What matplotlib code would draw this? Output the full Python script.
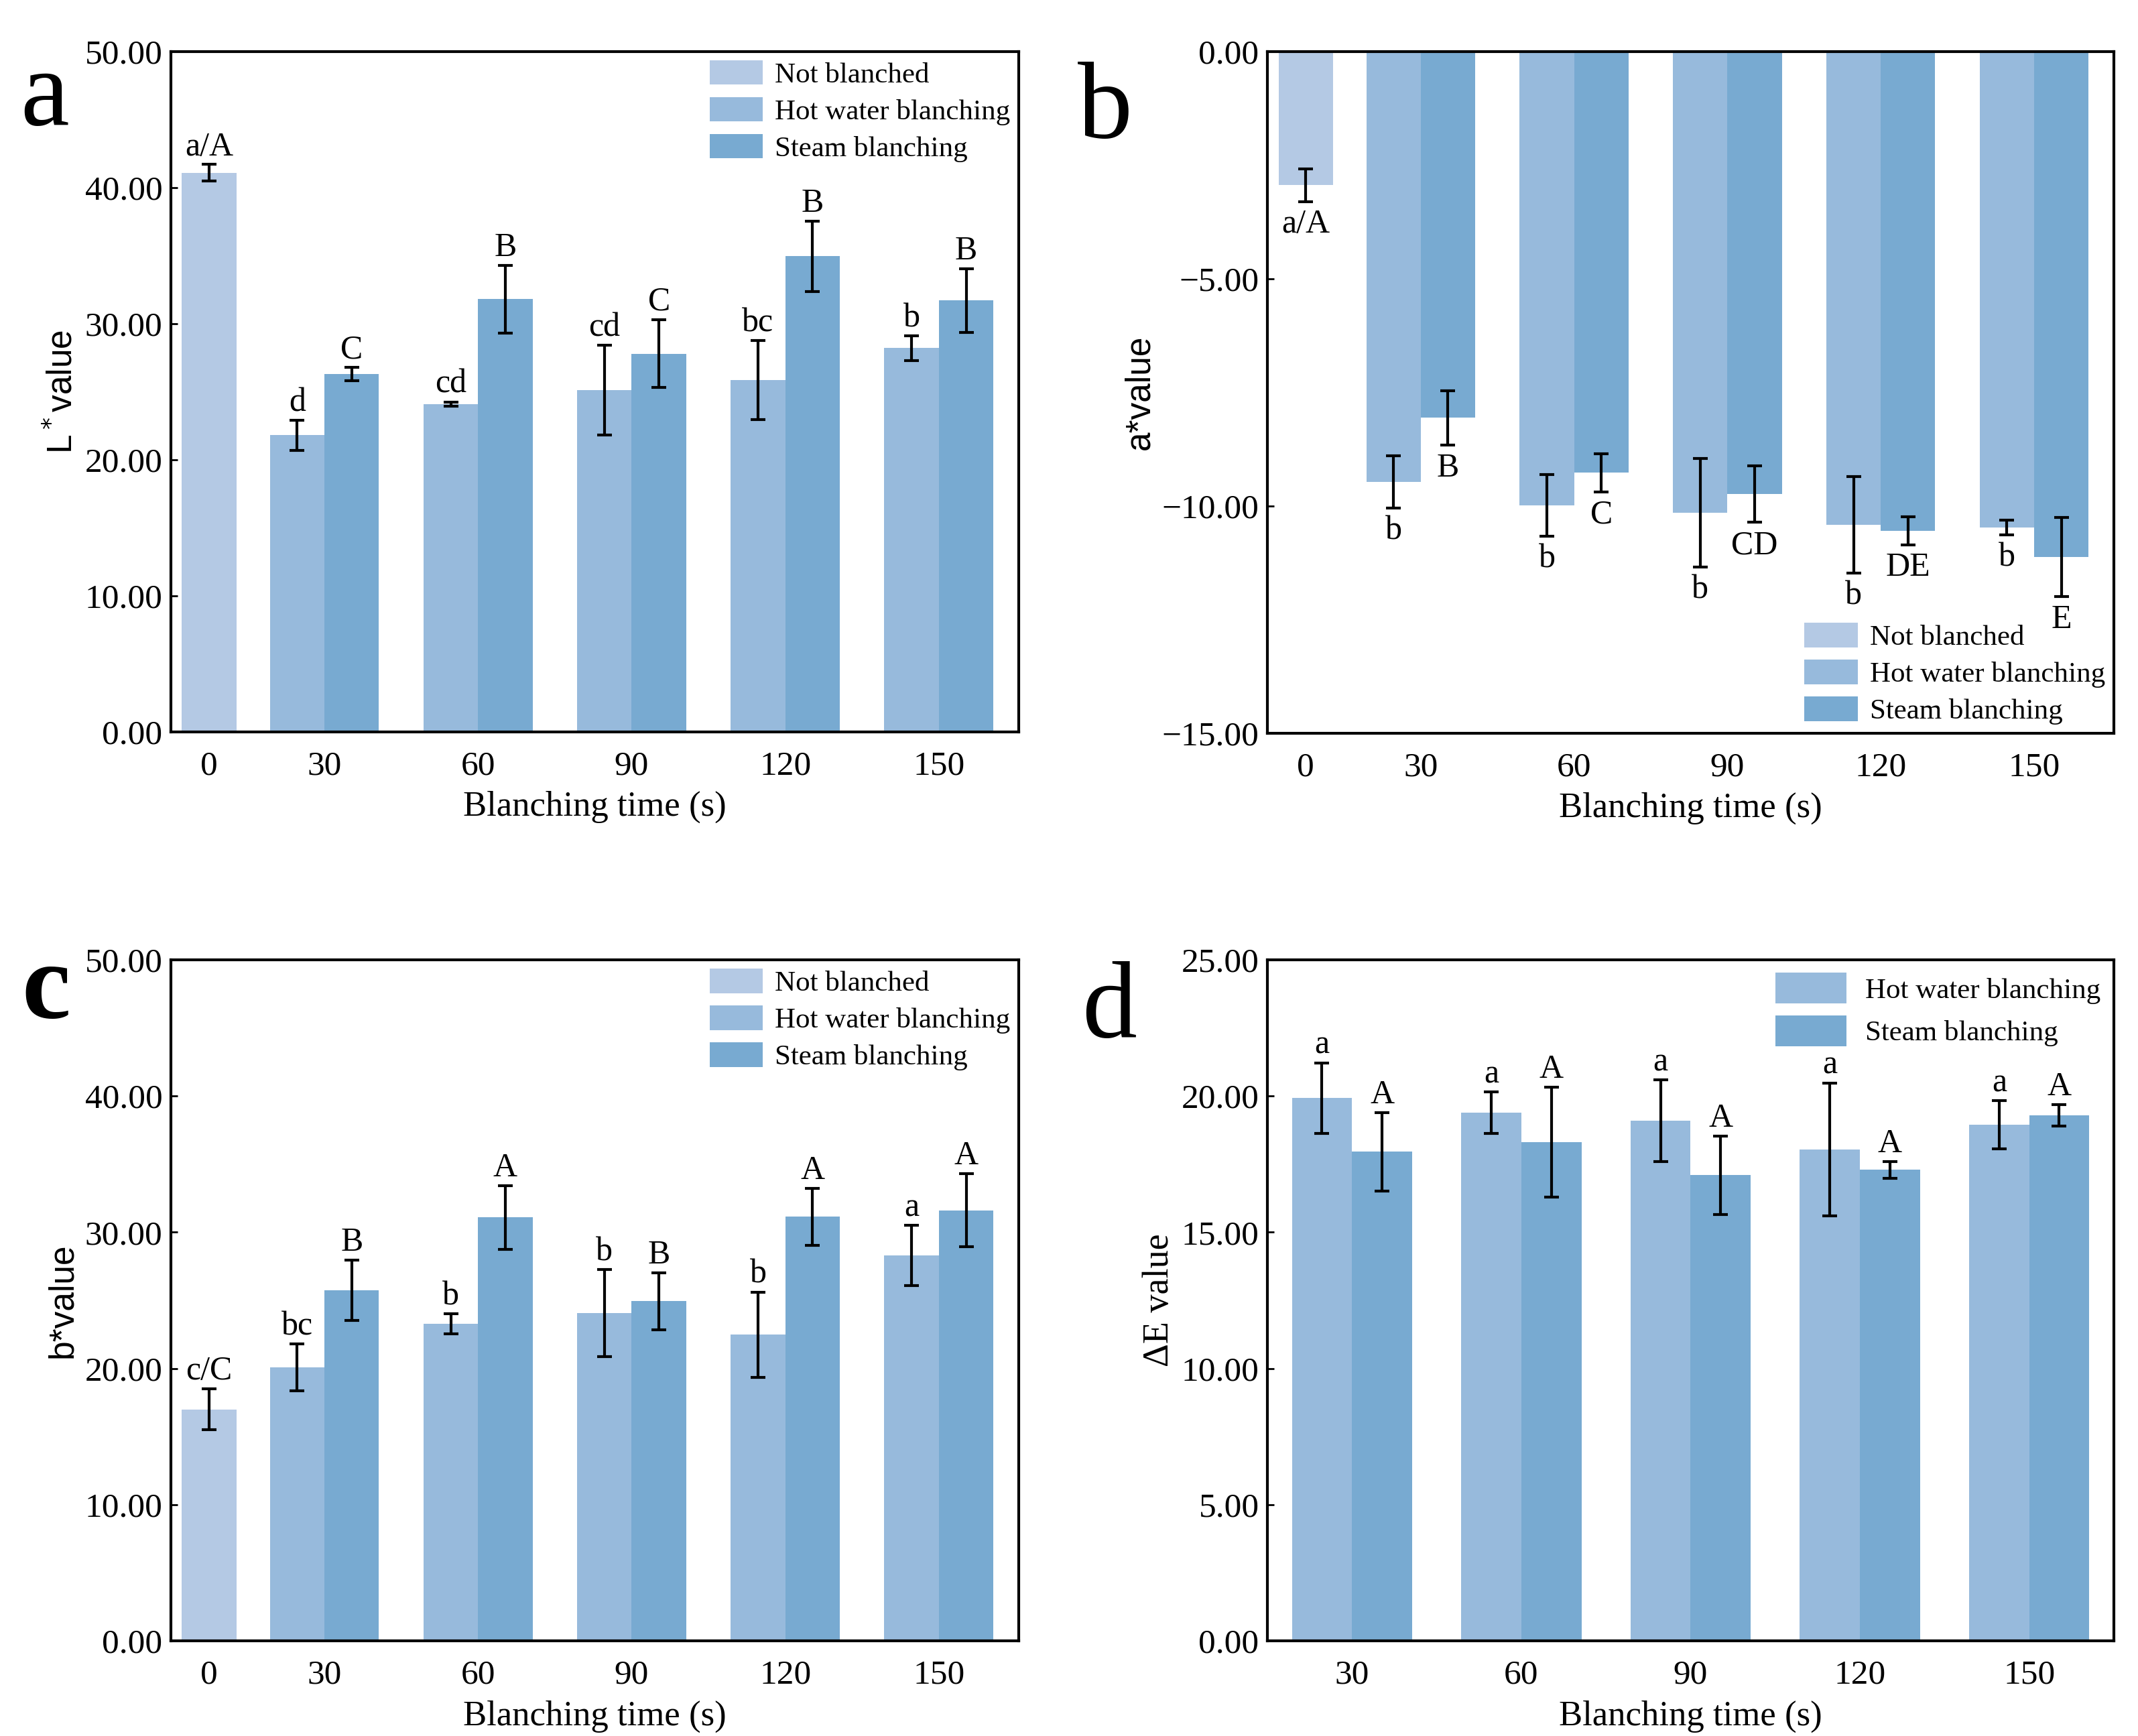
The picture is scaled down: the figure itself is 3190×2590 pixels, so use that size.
import matplotlib
matplotlib.use('Agg')
import matplotlib.pyplot as plt
from matplotlib.ticker import FuncFormatter

plt.rcParams['font.family'] = ['Liberation Serif', 'DejaVu Serif']
plt.rcParams['axes.unicode_minus'] = True

# ---- data ----
times_6 = ['0', '30', '60', '90', '120', '150']
times_5 = ['30', '60', '90', '120', '150']

# L* value
L_not = 41.1
L_not_err = 0.6
L_not_lab = 'a/A'
L_hot = [21.8, 24.1, 25.1, 25.85, 28.2]
L_hot_err = [1.1, 0.15, 3.3, 2.9, 0.9]
L_hot_lab = ['d', 'cd', 'cd', 'bc', 'b']
L_steam = [26.3, 31.8, 27.8, 34.95, 31.7]
L_steam_err = [0.5, 2.5, 2.5, 2.6, 2.35]
L_steam_lab = ['C', 'B', 'C', 'B', 'B']

# a* value
a_not = -2.94
a_not_err = 0.36
a_not_lab = 'a/A'
a_hot = [-9.47, -9.98, -10.15, -10.41, -10.47]
a_hot_err = [0.58, 0.68, 1.19, 1.06, 0.16]
a_hot_lab = ['b', 'b', 'b', 'b', 'b']
a_steam = [-8.06, -9.27, -9.74, -10.54, -11.12]
a_steam_err = [0.6, 0.42, 0.62, 0.31, 0.87]
a_steam_lab = ['B', 'C', 'CD', 'DE', 'E']

# b* value
b_not = 17.0
b_not_err = 1.5
b_not_lab = 'c/C'
b_hot = [20.08, 23.28, 24.05, 22.47, 28.3]
b_hot_err = [1.7, 0.73, 3.2, 3.14, 2.2]
b_hot_lab = ['bc', 'b', 'b', 'b', 'a']
b_steam = [25.75, 31.09, 24.94, 31.13, 31.62]
b_steam_err = [2.2, 2.33, 2.1, 2.1, 2.7]
b_steam_lab = ['B', 'A', 'B', 'A', 'A']

# delta E
dE_hot = [19.92, 19.39, 19.09, 18.04, 18.95]
dE_hot_err = [1.3, 0.76, 1.5, 2.44, 0.88]
dE_hot_lab = ['a', 'a', 'a', 'a', 'a']
dE_steam = [17.96, 18.3, 17.09, 17.29, 19.29]
dE_steam_err = [1.44, 2.02, 1.43, 0.3, 0.4]
dE_steam_lab = ['A', 'A', 'A', 'A', 'A']

c_not = '#b4c9e4'
c_hot = '#97badc'
c_steam = '#78aad1'

W = 0.355
TICK_FS = 37
LAB_FS = 38
ANN_FS = 36
LEG_FS = 31
err_kw = dict(ecolor='black', elinewidth=3, capsize=8, capthick=3)


def fmt(v, pos):
    s = '%.2f' % v
    return s.replace('-', '\u2212')


def style_axes(ax):
    for sp in ax.spines.values():
        sp.set_linewidth(3)
    ax.tick_params(axis='y', direction='in', length=7, width=2, labelsize=TICK_FS, pad=9)
    ax.tick_params(axis='x', direction='in', length=0, labelsize=TICK_FS, pad=20)
    ax.yaxis.set_major_formatter(FuncFormatter(fmt))
    ax.set_xlabel('Blanching time (s)', fontsize=LAB_FS, labelpad=10)


def label_bars(ax, xs, vals, errs, labs, below=False):
    for x, v, e, t in zip(xs, vals, errs, labs):
        if below:
            ax.annotate(t, (x, v - e), xytext=(0, -8), textcoords='offset points',
                        ha='center', va='top', fontsize=ANN_FS)
        else:
            ax.annotate(t, (x, v + e), xytext=(0, 10), textcoords='offset points',
                        ha='center', va='baseline', fontsize=ANN_FS)


def three_group(ax, nv, ne, nl, hv, he, hl, sv, se, sl, below=False):
    p0 = 0.25
    groups = [1, 2, 3, 4, 5]
    xh = [g - W / 2 for g in groups]
    xs = [g + W / 2 for g in groups]
    ax.bar(p0, nv, W, color=c_not, label='Not blanched')
    ax.bar(xh, hv, W, color=c_hot, label='Hot water blanching')
    ax.bar(xs, sv, W, color=c_steam, label='Steam blanching')
    ax.errorbar([p0], [nv], yerr=[ne], fmt='none', **err_kw)
    ax.errorbar(xh, hv, yerr=he, fmt='none', **err_kw)
    ax.errorbar(xs, sv, yerr=se, fmt='none', **err_kw)
    label_bars(ax, [p0], [nv], [ne], [nl], below)
    label_bars(ax, xh, hv, he, hl, below)
    label_bars(ax, xs, sv, se, sl, below)
    ax.set_xticks([p0] + groups)
    ax.set_xticklabels(times_6)
    ax.set_xlim(0.0, 5.52)


fig = plt.figure(figsize=(31.9, 25.9), dpi=100)
ax_a = fig.add_axes([0.0799, 0.5784, 0.3966, 0.3919])
ax_b = fig.add_axes([0.5928, 0.5776, 0.3959, 0.3927])
ax_c = fig.add_axes([0.0799, 0.0548, 0.3966, 0.3923])
ax_d = fig.add_axes([0.5928, 0.0548, 0.3959, 0.3923])

leg_kw = dict(frameon=False, fontsize=LEG_FS, handlelength=1.84, handleheight=0.93,
              handletextpad=0.42, labelspacing=0.3, borderpad=0.3, borderaxespad=0)

# a
three_group(ax_a, L_not, L_not_err, L_not_lab, L_hot, L_hot_err, L_hot_lab,
            L_steam, L_steam_err, L_steam_lab)
ax_a.set_ylim(0, 50)
ax_a.set_yticks([0, 10, 20, 30, 40, 50])
style_axes(ax_a)
ax_a.set_ylabel('L$^*$value', fontsize=37, family='Liberation Sans')
ax_a.yaxis.set_label_coords(-0.108, 0.5)
ax_a.legend(loc='upper right', **leg_kw)

# b
three_group(ax_b, a_not, a_not_err, a_not_lab, a_hot, a_hot_err, a_hot_lab,
            a_steam, a_steam_err, a_steam_lab, below=True)
ax_b.set_ylim(-15, 0)
ax_b.set_yticks([0, -5, -10, -15])
style_axes(ax_b)
ax_b.set_ylabel('a*value', fontsize=37, family='Liberation Sans')
ax_b.yaxis.set_label_coords(-0.131, 0.5)
ax_b.legend(loc='lower right', **leg_kw)

# c
three_group(ax_c, b_not, b_not_err, b_not_lab, b_hot, b_hot_err, b_hot_lab,
            b_steam, b_steam_err, b_steam_lab)
ax_c.set_ylim(0, 50)
ax_c.set_yticks([0, 10, 20, 30, 40, 50])
style_axes(ax_c)
ax_c.set_ylabel('b*value', fontsize=37, family='Liberation Sans')
ax_c.yaxis.set_label_coords(-0.108, 0.5)
ax_c.legend(loc='upper right', **leg_kw)

# d
gx = list(range(len(times_5)))
xh = [g - W / 2 for g in gx]
xs = [g + W / 2 for g in gx]
ax_d.bar(xh, dE_hot, W, color=c_hot, label='Hot water blanching')
ax_d.bar(xs, dE_steam, W, color=c_steam, label='Steam blanching')
ax_d.errorbar(xh, dE_hot, yerr=dE_hot_err, fmt='none', **err_kw)
ax_d.errorbar(xs, dE_steam, yerr=dE_steam_err, fmt='none', **err_kw)
label_bars(ax_d, xh, dE_hot, dE_hot_err, dE_hot_lab)
label_bars(ax_d, xs, dE_steam, dE_steam_err, dE_steam_lab)
ax_d.set_xticks(gx)
ax_d.set_xticklabels(times_5)
ax_d.set_xlim(-0.5, 4.5)
ax_d.set_ylim(0, 25)
ax_d.set_yticks([0, 5, 10, 15, 20, 25])
style_axes(ax_d)
ax_d.set_ylabel('\u0394E value', fontsize=39)
ax_d.yaxis.set_label_coords(-0.108, 0.5)
d_leg = dict(leg_kw)
d_leg.update(handlelength=2.47, handleheight=1.26, handletextpad=0.65,
             labelspacing=0.4, borderpad=0.45)
ax_d.legend(loc='upper right', **d_leg)

# panel letters
fig.text(0.0094, 0.928, 'a', fontsize=118, va='baseline', ha='left')
fig.text(0.504, 0.9208, 'b', fontsize=118, va='baseline', ha='left')
fig.text(0.0103, 0.4139, 'c', fontsize=118, va='baseline', ha='left', weight='bold')
fig.text(0.506, 0.4027, 'd', fontsize=118, va='baseline', ha='left')

fig.savefig('out.png', dpi=100)
